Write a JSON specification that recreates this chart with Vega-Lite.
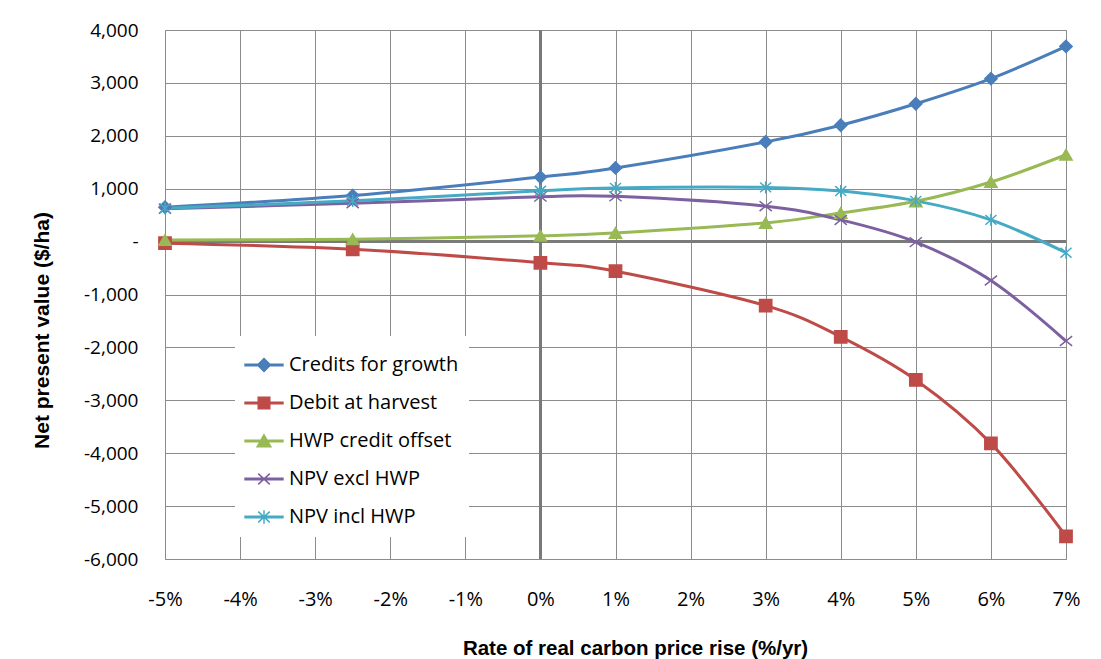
{
  "$schema": "https://vega.github.io/schema/vega-lite/v6.json",
  "width": 901,
  "height": 529,
  "autosize": {"type": "none"},
  "padding": {"left": 165, "top": 30, "right": 35, "bottom": 100},
  "background": "white",
  "config": {
    "view": {"stroke": "#8c8c8c", "strokeWidth": 1},
    "axis": {"gridColor": "#8c8c8c", "gridWidth": 1, "gridOpacity": 1, "domain": false, "ticks": false, "labelColor": "#000000", "titleColor": "#000000"},
    "legend": {
      "orient": "none", "legendX": 70, "legendY": 306,
      "padding": 10, "fillColor": "white", "strokeColor": null,
      "symbolSize": 1300, "symbolStrokeWidth": 1.5,
      "labelFont": "Open Sans", "labelFontSize": 20, "labelColor": "#000000", "labelOffset": 6, "labelLimit": 400,
      "rowPadding": 9
    }
  },
  "data": {
    "values": [
      {"rate": -5, "series": "Credits for growth", "npv": 650},
      {"rate": -2.5, "series": "Credits for growth", "npv": 870},
      {"rate": 0, "series": "Credits for growth", "npv": 1220},
      {"rate": 1, "series": "Credits for growth", "npv": 1393},
      {"rate": 3, "series": "Credits for growth", "npv": 1885},
      {"rate": 4, "series": "Credits for growth", "npv": 2200},
      {"rate": 5, "series": "Credits for growth", "npv": 2605},
      {"rate": 6, "series": "Credits for growth", "npv": 3080},
      {"rate": 7, "series": "Credits for growth", "npv": 3690},
      {"rate": -5, "series": "Debit at harvest", "npv": -30},
      {"rate": -2.5, "series": "Debit at harvest", "npv": -145},
      {"rate": 0, "series": "Debit at harvest", "npv": -400},
      {"rate": 1, "series": "Debit at harvest", "npv": -560},
      {"rate": 3, "series": "Debit at harvest", "npv": -1210},
      {"rate": 4, "series": "Debit at harvest", "npv": -1800},
      {"rate": 5, "series": "Debit at harvest", "npv": -2615},
      {"rate": 6, "series": "Debit at harvest", "npv": -3815},
      {"rate": 7, "series": "Debit at harvest", "npv": -5570},
      {"rate": -5, "series": "HWP credit offset", "npv": 30},
      {"rate": -2.5, "series": "HWP credit offset", "npv": 45},
      {"rate": 0, "series": "HWP credit offset", "npv": 110},
      {"rate": 1, "series": "HWP credit offset", "npv": 164},
      {"rate": 3, "series": "HWP credit offset", "npv": 353},
      {"rate": 4, "series": "HWP credit offset", "npv": 541},
      {"rate": 5, "series": "HWP credit offset", "npv": 761},
      {"rate": 6, "series": "HWP credit offset", "npv": 1126},
      {"rate": 7, "series": "HWP credit offset", "npv": 1642},
      {"rate": -5, "series": "NPV excl HWP", "npv": 620},
      {"rate": -2.5, "series": "NPV excl HWP", "npv": 725},
      {"rate": 0, "series": "NPV excl HWP", "npv": 850},
      {"rate": 1, "series": "NPV excl HWP", "npv": 855},
      {"rate": 3, "series": "NPV excl HWP", "npv": 670},
      {"rate": 4, "series": "NPV excl HWP", "npv": 410},
      {"rate": 5, "series": "NPV excl HWP", "npv": -10},
      {"rate": 6, "series": "NPV excl HWP", "npv": -735},
      {"rate": 7, "series": "NPV excl HWP", "npv": -1880},
      {"rate": -5, "series": "NPV incl HWP", "npv": 630},
      {"rate": -2.5, "series": "NPV incl HWP", "npv": 770},
      {"rate": 0, "series": "NPV incl HWP", "npv": 960},
      {"rate": 1, "series": "NPV incl HWP", "npv": 1015},
      {"rate": 3, "series": "NPV incl HWP", "npv": 1025},
      {"rate": 4, "series": "NPV incl HWP", "npv": 955},
      {"rate": 5, "series": "NPV incl HWP", "npv": 770},
      {"rate": 6, "series": "NPV incl HWP", "npv": 410},
      {"rate": 7, "series": "NPV incl HWP", "npv": -210}
    ]
  },
  "encoding": {
    "x": {
      "field": "rate", "type": "quantitative",
      "scale": {"domain": [-5, 7], "nice": false, "zero": false},
      "axis": {
        "values": [-5, -4, -3, -2, -1, 0, 1, 2, 3, 4, 5, 6, 7],
        "labelExpr": "datum.value + '%'",
        "labelFlush": false,
        "labelFont": "Open Sans", "labelFontSize": 20, "labelPadding": 30,
        "title": "Rate of real carbon price rise (%/yr)",
        "titleFont": "Liberation Sans", "titleFontWeight": "bold", "titleFontSize": 20.5,
        "titleX": 470, "titleY": 89, "titleBaseline": "middle", "titleAlign": "center"
      }
    },
    "y": {
      "field": "npv", "type": "quantitative",
      "scale": {"domain": [-6000, 4000], "nice": false},
      "axis": {
        "values": [-6000, -5000, -4000, -3000, -2000, -1000, 0, 1000, 2000, 3000, 4000],
        "labelExpr": "datum.value == 0 ? '-' : replace(format(datum.value, ','), '\u2212', '-')",
        "labelFont": "Open Sans", "labelFontSize": 19, "labelPadding": 27,
        "title": "Net present value ($/ha)",
        "titleFont": "Liberation Sans", "titleFontWeight": "bold", "titleFontSize": 21,
        "titleX": -123, "titleY": 300, "titleBaseline": "middle", "titleAlign": "center", "titleAngle": -90
      }
    }
  },
  "resolve": {
    "scale": {"color": "independent", "stroke": "independent", "shape": "independent"},
    "legend": {"color": "independent", "stroke": "independent", "shape": "independent"}
  },
  "layer": [
    {
      "mark": {"type": "rule", "color": "#7a7a7a", "strokeWidth": 2},
      "encoding": {"y": {"datum": 0}, "x": null}
    },
    {
      "mark": {"type": "rule", "color": "#7a7a7a", "strokeWidth": 2},
      "encoding": {"x": {"datum": 0}, "y": null}
    },
    {
      "mark": {"type": "line", "interpolate": "cardinal", "tension": 0, "strokeWidth": 3},
      "encoding": {
        "color": {
          "field": "series", "type": "nominal",
          "scale": {
            "domain": ["Credits for growth", "Debit at harvest", "HWP credit offset", "NPV excl HWP", "NPV incl HWP"],
            "range": ["#4A7EBB", "#BE4B48", "#98B954", "#7D60A0", "#46AAC5"]
          },
          "legend": null
        }
      }
    },
    {
      "transform": [{"filter": "false"}],
      "mark": {"type": "point", "filled": true, "strokeWidth": 1.5, "opacity": 1},
      "encoding": {
        "color": {
          "field": "series", "type": "nominal", "title": null,
          "scale": {
            "domain": ["Credits for growth", "Debit at harvest", "HWP credit offset", "NPV excl HWP", "NPV incl HWP"],
            "range": ["#4A7EBB", "#BE4B48", "#98B954", "#7D60A0", "#46AAC5"]
          }
        },
        "stroke": {
          "field": "series", "type": "nominal", "title": null,
          "scale": {
            "domain": ["Credits for growth", "Debit at harvest", "HWP credit offset", "NPV excl HWP", "NPV incl HWP"],
            "range": ["#4A7EBB", "#BE4B48", "#98B954", "#7D60A0", "#46AAC5"]
          }
        },
        "shape": {
          "field": "series", "type": "nominal", "title": null,
          "scale": {
            "domain": ["Credits for growth", "Debit at harvest", "HWP credit offset", "NPV excl HWP", "NPV incl HWP"],
            "range": [
              "M-1.05,-0.042L1.05,-0.042L1.05,0.042L-1.05,0.042ZM0,-0.36L0.36,0L0,0.36L-0.36,0Z",
              "M-1.05,-0.042L1.05,-0.042L1.05,0.042L-1.05,0.042ZM-0.32,-0.32L0.32,-0.32L0.32,0.32L-0.32,0.32Z",
              "M-1.05,-0.042L1.05,-0.042L1.05,0.042L-1.05,0.042ZM0,-0.34L0.38,0.32L-0.38,0.32Z",
              "M-1.05,-0.042L1.05,-0.042L1.05,0.042L-1.05,0.042ZM-0.32,-0.3L0.32,0.3M-0.32,0.3L0.32,-0.3",
              "M-1.05,-0.042L1.05,-0.042L1.05,0.042L-1.05,0.042ZM-0.32,-0.3L0.32,0.3M-0.32,0.3L0.32,-0.3M0,-0.38L0,0.38"
            ]
          }
        }
      }
    },
    {
      "mark": {"type": "point", "filled": true, "size": 150, "strokeWidth": 1.5, "opacity": 1},
      "encoding": {
        "color": {
          "field": "series", "type": "nominal",
          "scale": {
            "domain": ["Credits for growth", "Debit at harvest", "HWP credit offset", "NPV excl HWP", "NPV incl HWP"],
            "range": ["#4A7EBB", "#BE4B48", "#98B954", "#7D60A0", "#46AAC5"]
          },
          "legend": null
        },
        "stroke": {
          "field": "series", "type": "nominal",
          "scale": {
            "domain": ["Credits for growth", "Debit at harvest", "HWP credit offset", "NPV excl HWP", "NPV incl HWP"],
            "range": ["#4A7EBB", "#BE4B48", "#98B954", "#7D60A0", "#46AAC5"]
          },
          "legend": null
        },
        "shape": {
          "field": "series", "type": "nominal",
          "scale": {
            "domain": ["Credits for growth", "Debit at harvest", "HWP credit offset", "NPV excl HWP", "NPV incl HWP"],
            "range": ["diamond", "square", "triangle-up", "M-1,-0.8L1,0.8M-1,0.8L1,-0.8", "M-0.9,-0.8L0.9,0.8M-0.9,0.8L0.9,-0.8M0,-1L0,1"]
          },
          "legend": null
        }
      }
    }
  ]
}
